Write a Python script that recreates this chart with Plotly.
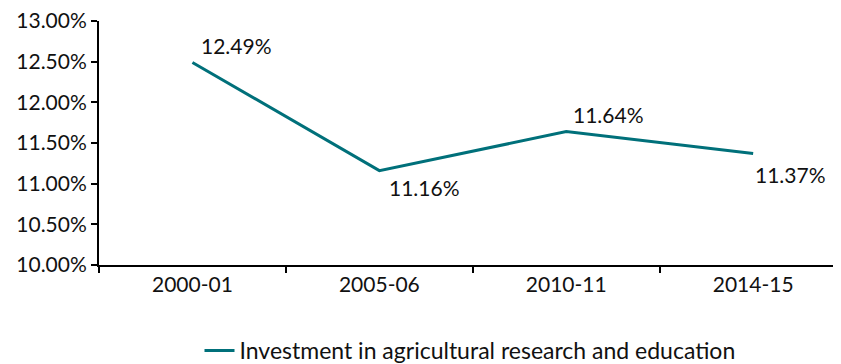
import plotly.graph_objects as go

categories = ["2000-01", "2005-06", "2010-11", "2014-15"]
values = [12.49, 11.16, 11.64, 11.37]
labels = ["12.49%", "11.16%", "11.64%", "11.37%"]
y_ticks = [10.0, 10.5, 11.0, 11.5, 12.0, 12.5, 13.0]
y_tick_text = ["10.00%", "10.50%", "11.00%", "11.50%", "12.00%", "12.50%", "13.00%"]
series_name = "Investment in agricultural research and education"

# label offsets (pixels) relative to each point
label_dx = [7, 8, 5, 0]
label_dy = [17, -17, 17, -21]

FONT = "Lato"
FS = 21
fig = go.Figure()
fig.add_trace(go.Scatter(
    x=categories, y=values, mode="lines", name=series_name,
    line=dict(color="#00707a", width=3),
))
for c, v, t, dx, dy in zip(categories, values, labels, label_dx, label_dy):
    fig.add_annotation(x=c, y=v, text=t, showarrow=False, xanchor="left", yanchor="middle",
                       xshift=dx, yshift=dy,
                       font=dict(family=FONT, size=FS, color="#111111"))
fig.update_layout(
    width=833, height=356,
    margin=dict(l=91, r=0, t=13, b=99, autoexpand=False),
    paper_bgcolor="white", plot_bgcolor="white",
    font=dict(family=FONT, size=FS, color="#111111"),
    showlegend=True,
    legend=dict(orientation="h", x=0.5, xanchor="center", y=-0.262, yanchor="top",
                font=dict(family=FONT, size=23, color="#111111")),
    xaxis=dict(type="category", range=[-0.5, 3.47], showline=True, linecolor="black",
               linewidth=2, ticks="outside", tickson="boundaries", ticklen=6,
               tickwidth=2, tickcolor="black", showgrid=False, zeroline=False,
               tickfont=dict(family=FONT, size=FS)),
    yaxis=dict(range=[10, 13], tickvals=y_ticks, ticktext=y_tick_text, showline=True,
               linecolor="black", linewidth=2, ticks="outside", ticklen=6, tickwidth=2,
               tickcolor="black", showgrid=False, zeroline=False,
               ticklabeloverflow="allow",
               tickfont=dict(family=FONT, size=FS)),
)
fig.write_html("out.html")
